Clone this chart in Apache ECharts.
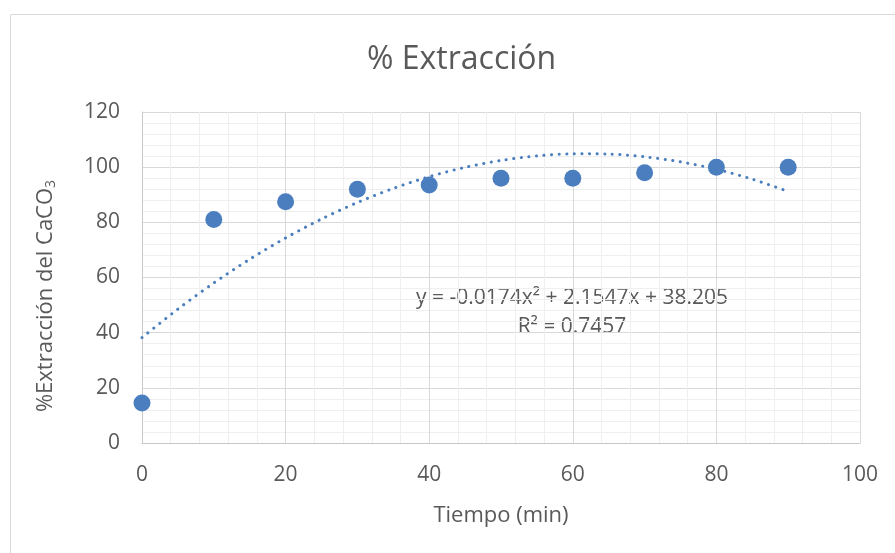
<!DOCTYPE html>
<html>
<head>
<meta charset="utf-8">
<script src="https://cdn.jsdelivr.net/npm/echarts@6/dist/echarts.min.js"></script>
<style>
  html, body { margin: 0; padding: 0; background: #fff; }
  #chart { width: 895px; height: 553px; }
</style>
</head>
<body>
<div id="chart"></div>
<script>
// tiempo (min) y % extracción medidos
var tiempo = [0, 10, 20, 30, 40, 50, 60, 70, 80, 90];
var extraccion = [14.5, 81, 87.5, 92, 93.5, 96, 96, 98, 100, 100];

// línea de tendencia polinómica (cada 5 min)
var trendX = [0, 5, 10, 15, 20, 25, 30, 35, 40, 45, 50, 55, 60, 65, 70, 75, 80, 85, 90];
var trendY = [38.2, 48.54, 58.01, 66.61, 74.34, 81.2, 87.19, 92.3, 96.55, 99.93, 102.44, 104.08, 104.85, 104.75, 103.77, 101.93, 99.22, 95.64, 91.19];

var eqLines = ['y = -0.0174x² + 2.1547x + 38.205', 'R² = 0.7457'];

var chart = echarts.init(document.getElementById('chart'));
var font = '"Open Sans", "Noto Sans", sans-serif';
var blue = '#4A7EBF';
var txt = '#595959';

chart.setOption({
  animation: false,
  textStyle: { fontFamily: font },
  title: {
    text: '% Extracción',
    left: 362,
    top: 39,
    textStyle: { fontSize: 32, fontWeight: 'normal', color: txt, fontFamily: font }
  },
  grid: { left: 142, right: 35, top: 112, bottom: 110 },
  xAxis: {
    type: 'value',
    min: 0,
    max: 100,
    interval: 20,
    name: 'Tiempo (min)',
    nameLocation: 'middle',
    nameGap: 62,
    nameTextStyle: { fontSize: 22, color: txt },
    axisLine: { show: true, lineStyle: { color: '#c8c8c8' } },
    axisTick: { show: false },
    axisLabel: { fontSize: 21, color: txt, margin: 22 },
    splitLine: { show: true, lineStyle: { color: '#d9d9d9', width: 1 } },
    minorTick: { show: false, splitNumber: 5 },
    minorSplitLine: { show: true, lineStyle: { color: '#efefef', width: 1 } }
  },
  yAxis: {
    type: 'value',
    min: 0,
    max: 120,
    interval: 20,
    axisLine: { show: true, lineStyle: { color: '#c8c8c8' } },
    axisTick: { show: false },
    axisLabel: { fontSize: 21, color: txt, margin: 22 },
    splitLine: { show: true, lineStyle: { color: '#d9d9d9', width: 1 } },
    minorTick: { show: false, splitNumber: 5 },
    minorSplitLine: { show: true, lineStyle: { color: '#efefef', width: 1 } }
  },
  graphic: [
    {
      type: 'rect',
      shape: { x: 10.5, y: 14.5, width: 900, height: 600 },
      style: { fill: 'none', stroke: '#d9d9d9', lineWidth: 1 },
      silent: true
    },
    {
      type: 'text',
      x: 46,
      y: 296,
      rotation: Math.PI / 2,
      style: {
        text: '%Extracción del CaCO{sub|3}',
        fontSize: 22,
        fill: txt,
        fontFamily: font,
        align: 'center',
        verticalAlign: 'middle',
        rich: { sub: { fontSize: 14, fill: txt, fontFamily: font, padding: [10, 0, 0, 0] } }
      }
    },
    {
      type: 'text',
      x: 572,
      y: 298,
      style: { text: eqLines[0], fontSize: 21, fill: txt, fontFamily: font, align: 'center', verticalAlign: 'middle' }
    },
    {
      type: 'text',
      x: 572,
      y: 327,
      style: { text: eqLines[1], fontSize: 21, fill: txt, fontFamily: font, align: 'center', verticalAlign: 'middle' }
    }
  ],
  series: [
    {
      name: 'Tendencia',
      type: 'line',
      smooth: 0.3,
      showSymbol: false,
      lineStyle: { color: blue, width: 3, type: [0.1, 7.5], cap: 'round' },
      data: trendX.map(function (x, i) { return [x, trendY[i]]; }),
      z: 2
    },
    {
      name: '% Extracción',
      type: 'scatter',
      symbolSize: 17,
      itemStyle: { color: blue, opacity: 1 },
      data: tiempo.map(function (t, i) { return [t, extraccion[i]]; }),
      z: 3
    }
  ]
});
</script>
</body>
</html>
